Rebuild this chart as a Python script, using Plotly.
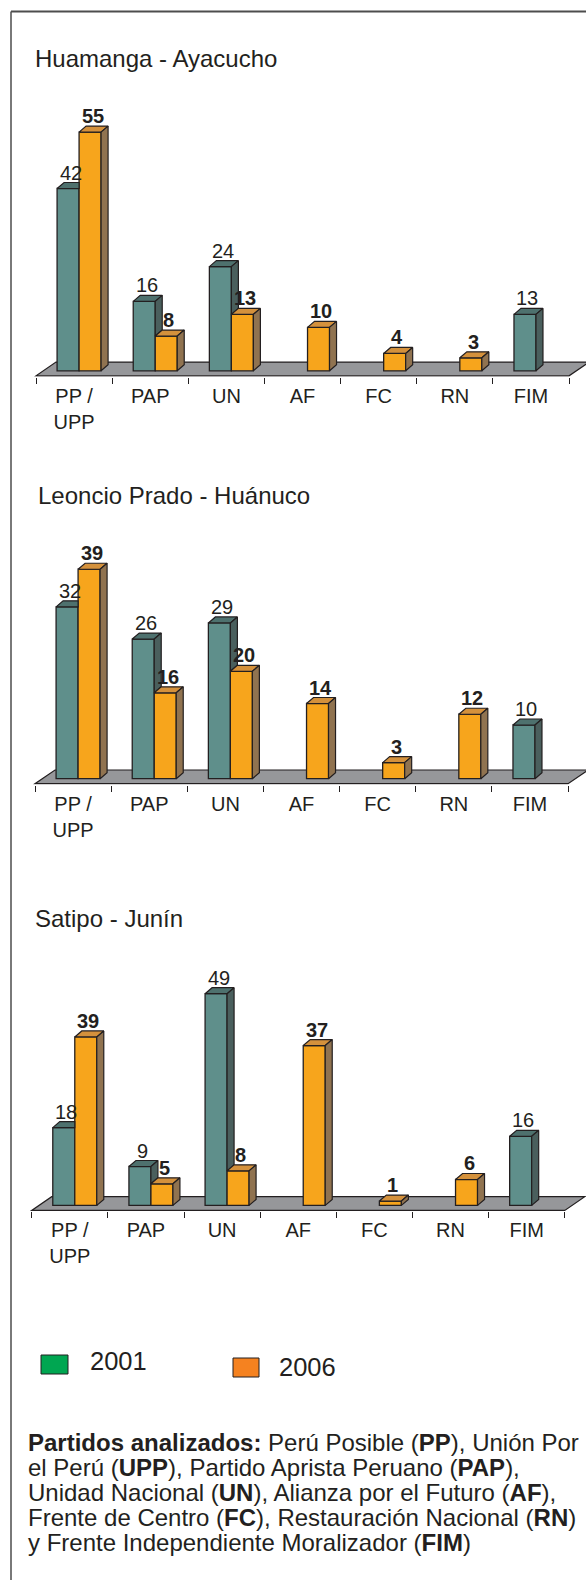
import plotly.graph_objects as go

W, H = 586, 1580

# ---------------- data ----------------
categories = ["PP/UPP", "PAP", "UN", "AF", "FC", "RN", "FIM"]
tick_labels = ["PP /<br>UPP", "PAP", "UN", "AF", "FC", "RN", "FIM"]

panel_titles = ["Huamanga - Ayacucho", "Leoncio Prado - Huánuco", "Satipo - Junín"]

v2001_huamanga = [42, 16, 24, None, None, None, 13]
v2006_huamanga = [55, 8, 13, 10, 4, 3, None]

v2001_leoncio = [32, 26, 29, None, None, None, 10]
v2006_leoncio = [39, 16, 20, 14, 3, 12, None]

v2001_satipo = [18, 9, 49, None, None, None, 16]
v2006_satipo = [39, 5, 8, 37, 1, 6, None]

series_2001 = [v2001_huamanga, v2001_leoncio, v2001_satipo]
series_2006 = [v2006_huamanga, v2006_leoncio, v2006_satipo]

legend_labels = ["2001", "2006"]

note_lines = [
    "<b>Partidos analizados:</b> Perú Posible (<b>PP</b>), Unión Por",
    "el Perú (<b>UPP</b>), Partido Aprista Peruano (<b>PAP</b>),",
    "Unidad Nacional (<b>UN</b>), Alianza por el Futuro (<b>AF</b>),",
    "Frente de Centro (<b>FC</b>), Restauración Nacional (<b>RN</b>)",
    "y Frente Independiente Moralizador (<b>FIM</b>)",
]

# ---------------- style ----------------
FONT = "Liberation Sans, Arial, sans-serif"
TXT = "#231F20"
EDGE = "#231F20"
TEAL_FRONT, TEAL_TOP, TEAL_SIDE = "#5F8F8B", "#4E716E", "#4A5F5D"
ORANGE_FRONT, ORANGE_TOP, ORANGE_SIDE = "#F7A51C", "#D4913C", "#907350"
FLOOR = "#96979A"
LEG_GREEN, LEG_ORANGE = "#00A651", "#F58220"

# pixel geometry per panel: base = px row of value 0, scale = px per unit,
# x0 = px of the left category boundary
panels = [
    dict(base=370.8, scale=4.34, x0=36.0, top=80, title_x=32.5, title_y=59),
    dict(base=778.7, scale=5.37, x0=35.0, top=520, title_x=35.5, title_y=495),
    dict(base=1205.4, scale=4.32, x0=31.7, top=945, title_x=33.0, title_y=918),
]
CW = 76.15          # px per category
BAR_W = 22.0        # px bar width
TEAL_OFF = -17.0    # px offset of 2001 bar from category centre
DX, DY = 7.0, 6.0   # 3-D depth of bars (px)
FLOOR_FRONT = 5.0   # px below base
FLOOR_DEPTH = 13.7  # px
FLOOR_DX = 20.0     # px

fig = go.Figure()
shapes = []
annotations = []


def px_x(p):
    return p / W


def px_y(p):
    return 1 - p / H


for k, g in enumerate(panels):
    xa = "x" if k == 0 else f"x{k + 1}"
    ya = "y" if k == 0 else f"y{k + 1}"
    ux = 1.0 / CW
    uy = 1.0 / g["scale"]
    bottom_px = g["base"] + FLOOR_FRONT + 1
    ymin = -(bottom_px - g["base"]) * uy
    ymax = ymin + (bottom_px - g["top"]) * uy
    xmin = -0.5 - g["x0"] * ux
    xmax = xmin + W * ux
    idx = list(range(len(categories)))

    a = series_2001[k]
    b = series_2006[k]

    fig.add_trace(go.Bar(
        x=idx, y=a, offset=TEAL_OFF * ux, width=BAR_W * ux,
        marker=dict(color=TEAL_FRONT, line=dict(color=EDGE, width=1.3)),
        xaxis=xa, yaxis=ya, name=legend_labels[0], hoverinfo="skip"))
    fig.add_trace(go.Bar(
        x=idx, y=b, offset=(TEAL_OFF + BAR_W) * ux, width=BAR_W * ux,
        marker=dict(color=ORANGE_FRONT, line=dict(color=EDGE, width=1.3)),
        xaxis=xa, yaxis=ya, name=legend_labels[1], hoverinfo="skip"))

    dx = DX * ux
    dy = DY * uy
    w = BAR_W * ux
    polys = {TEAL_TOP: ([], []), TEAL_SIDE: ([], []),
             ORANGE_TOP: ([], []), ORANGE_SIDE: ([], [])}

    def add_poly(col, pts):
        xs, ys = polys[col]
        for px_, py_ in pts:
            xs.append(px_)
            ys.append(py_)
        xs.append(pts[0][0])
        ys.append(pts[0][1])
        xs.append(None)
        ys.append(None)

    for i in idx:
        ta, ob = a[i], b[i]
        xl_t = i + TEAL_OFF * ux
        xr_t = xl_t + w
        xl_o = xr_t
        xr_o = xl_o + w
        if ta is not None:
            if ob is not None and ob > ta:
                add_poly(TEAL_TOP, [(xl_t, ta), (xr_t, ta), (xr_t, ta + dy), (xl_t + dx, ta + dy)])
            else:
                add_poly(TEAL_TOP, [(xl_t, ta), (xr_t, ta), (xr_t + dx, ta + dy), (xl_t + dx, ta + dy)])
                low = ob if ob is not None else 0
                add_poly(TEAL_SIDE, [(xr_t, low), (xr_t + dx, low + dy), (xr_t + dx, ta + dy), (xr_t, ta)])
            annotations.append(dict(
                x=xl_t + (BAR_W / 2 + 2.5) * ux, y=ta + dy, xref=xa, yref=ya,
                text=str(ta), showarrow=False, yanchor="bottom", yshift=-3,
                font=dict(family=FONT, size=20, color=TXT)))
        if ob is not None:
            add_poly(ORANGE_TOP, [(xl_o, ob), (xr_o, ob), (xr_o + dx, ob + dy), (xl_o + dx, ob + dy)])
            add_poly(ORANGE_SIDE, [(xr_o, 0), (xr_o + dx, dy), (xr_o + dx, ob + dy), (xr_o, ob)])
            annotations.append(dict(
                x=xl_o + (BAR_W / 2 + 2.5) * ux, y=ob + dy, xref=xa, yref=ya,
                text=f"<b>{ob}</b>", showarrow=False, yanchor="bottom", yshift=-3,
                font=dict(family=FONT, size=20, color=TXT)))

    for col, (xs, ys) in polys.items():
        if xs:
            fig.add_trace(go.Scatter(
                x=xs, y=ys, mode="lines", fill="toself", fillcolor=col,
                line=dict(color=EDGE, width=1.2), xaxis=xa, yaxis=ya,
                hoverinfo="skip", showlegend=False))

    # floor
    yF = -FLOOR_FRONT * uy
    yB = yF + FLOOR_DEPTH * uy
    fdx = FLOOR_DX * ux
    x_a = -0.5
    x_b = len(categories) - 0.5
    shapes.append(dict(
        type="path", xref=xa, yref=ya, layer="below",
        path=f"M {x_a},{yF} L {x_b},{yF} L {x_b + fdx},{yB} L {x_a + fdx},{yB} Z",
        fillcolor=FLOOR, line=dict(color=EDGE, width=1.2)))

    xkey = "xaxis" if k == 0 else f"xaxis{k + 1}"
    ykey = "yaxis" if k == 0 else f"yaxis{k + 1}"
    fig.update_layout(**{
        xkey: dict(
            domain=[0, 1], range=[xmin, xmax], anchor=ya,
            showline=False, showgrid=False, zeroline=False,
            tickmode="array", tickvals=idx, ticktext=tick_labels,
            ticks="outside", ticklen=1, tickcolor="rgba(0,0,0,0)",
            tickfont=dict(family=FONT, size=20, color=TXT),
            minor=dict(tickmode="array", tickvals=[i - 0.5 for i in range(len(categories) + 1)],
                       ticks="outside", ticklen=6, tickcolor=EDGE, tickwidth=1, showgrid=False),
            fixedrange=True),
        ykey: dict(
            domain=[(H - bottom_px) / H, (H - g["top"]) / H], range=[ymin, ymax],
            anchor=xa, visible=False, showgrid=False, zeroline=False, fixedrange=True),
    })

    annotations.append(dict(
        x=px_x(g["title_x"]), y=px_y(g["title_y"]), xref="paper", yref="paper",
        text=panel_titles[k], showarrow=False, xanchor="left", yanchor="middle",
        font=dict(family=FONT, size=24, color=TXT)))

# legend
leg = [
    dict(x0=41, x1=68, y0=1355, y1=1374, col=LEG_GREEN, tx=88, ty=1361),
    dict(x0=233, x1=259, y0=1358, y1=1377, col=LEG_ORANGE, tx=277, ty=1367),
]
for j, l in enumerate(leg):
    shapes.append(dict(type="rect", xref="paper", yref="paper",
                       x0=px_x(l["x0"]), x1=px_x(l["x1"]), y0=px_y(l["y1"]), y1=px_y(l["y0"]),
                       fillcolor=l["col"], line=dict(color=EDGE, width=1)))
    annotations.append(dict(x=px_x(l["tx"]), y=px_y(l["ty"]), xref="paper", yref="paper",
                            text=legend_labels[j], showarrow=False, xanchor="left", yanchor="middle",
                            font=dict(family=FONT, size=25.5, color=TXT)))

# note text
for j, line in enumerate(note_lines):
    annotations.append(dict(x=px_x(26), y=px_y(1442 + 25.2 * j), xref="paper", yref="paper",
                            text=line, showarrow=False, xanchor="left", yanchor="middle",
                            font=dict(family=FONT, size=24, color=TXT)))

# frame
shapes.append(dict(type="line", xref="paper", yref="paper", x0=px_x(11), x1=1.0,
                   y0=px_y(11.5), y1=px_y(11.5), line=dict(color="#4D4D4D", width=2)))
shapes.append(dict(type="line", xref="paper", yref="paper", x0=px_x(11), x1=px_x(11),
                   y0=px_y(11.5), y1=0, line=dict(color="#4D4D4D", width=1.5)))

fig.update_layout(
    width=W, height=H, margin=dict(l=0, r=0, t=0, b=0),
    paper_bgcolor="white", plot_bgcolor="rgba(0,0,0,0)",
    barmode="overlay", showlegend=False, hovermode=False,
    shapes=shapes, annotations=annotations,
)

fig.write_html(
    "out.html",
    config={"displayModeBar": False, "staticPlot": True},
    post_script="document.body.style.margin='0';document.body.style.padding='0';"
                "document.documentElement.style.overflow='hidden';document.body.style.overflow='hidden';",
)
